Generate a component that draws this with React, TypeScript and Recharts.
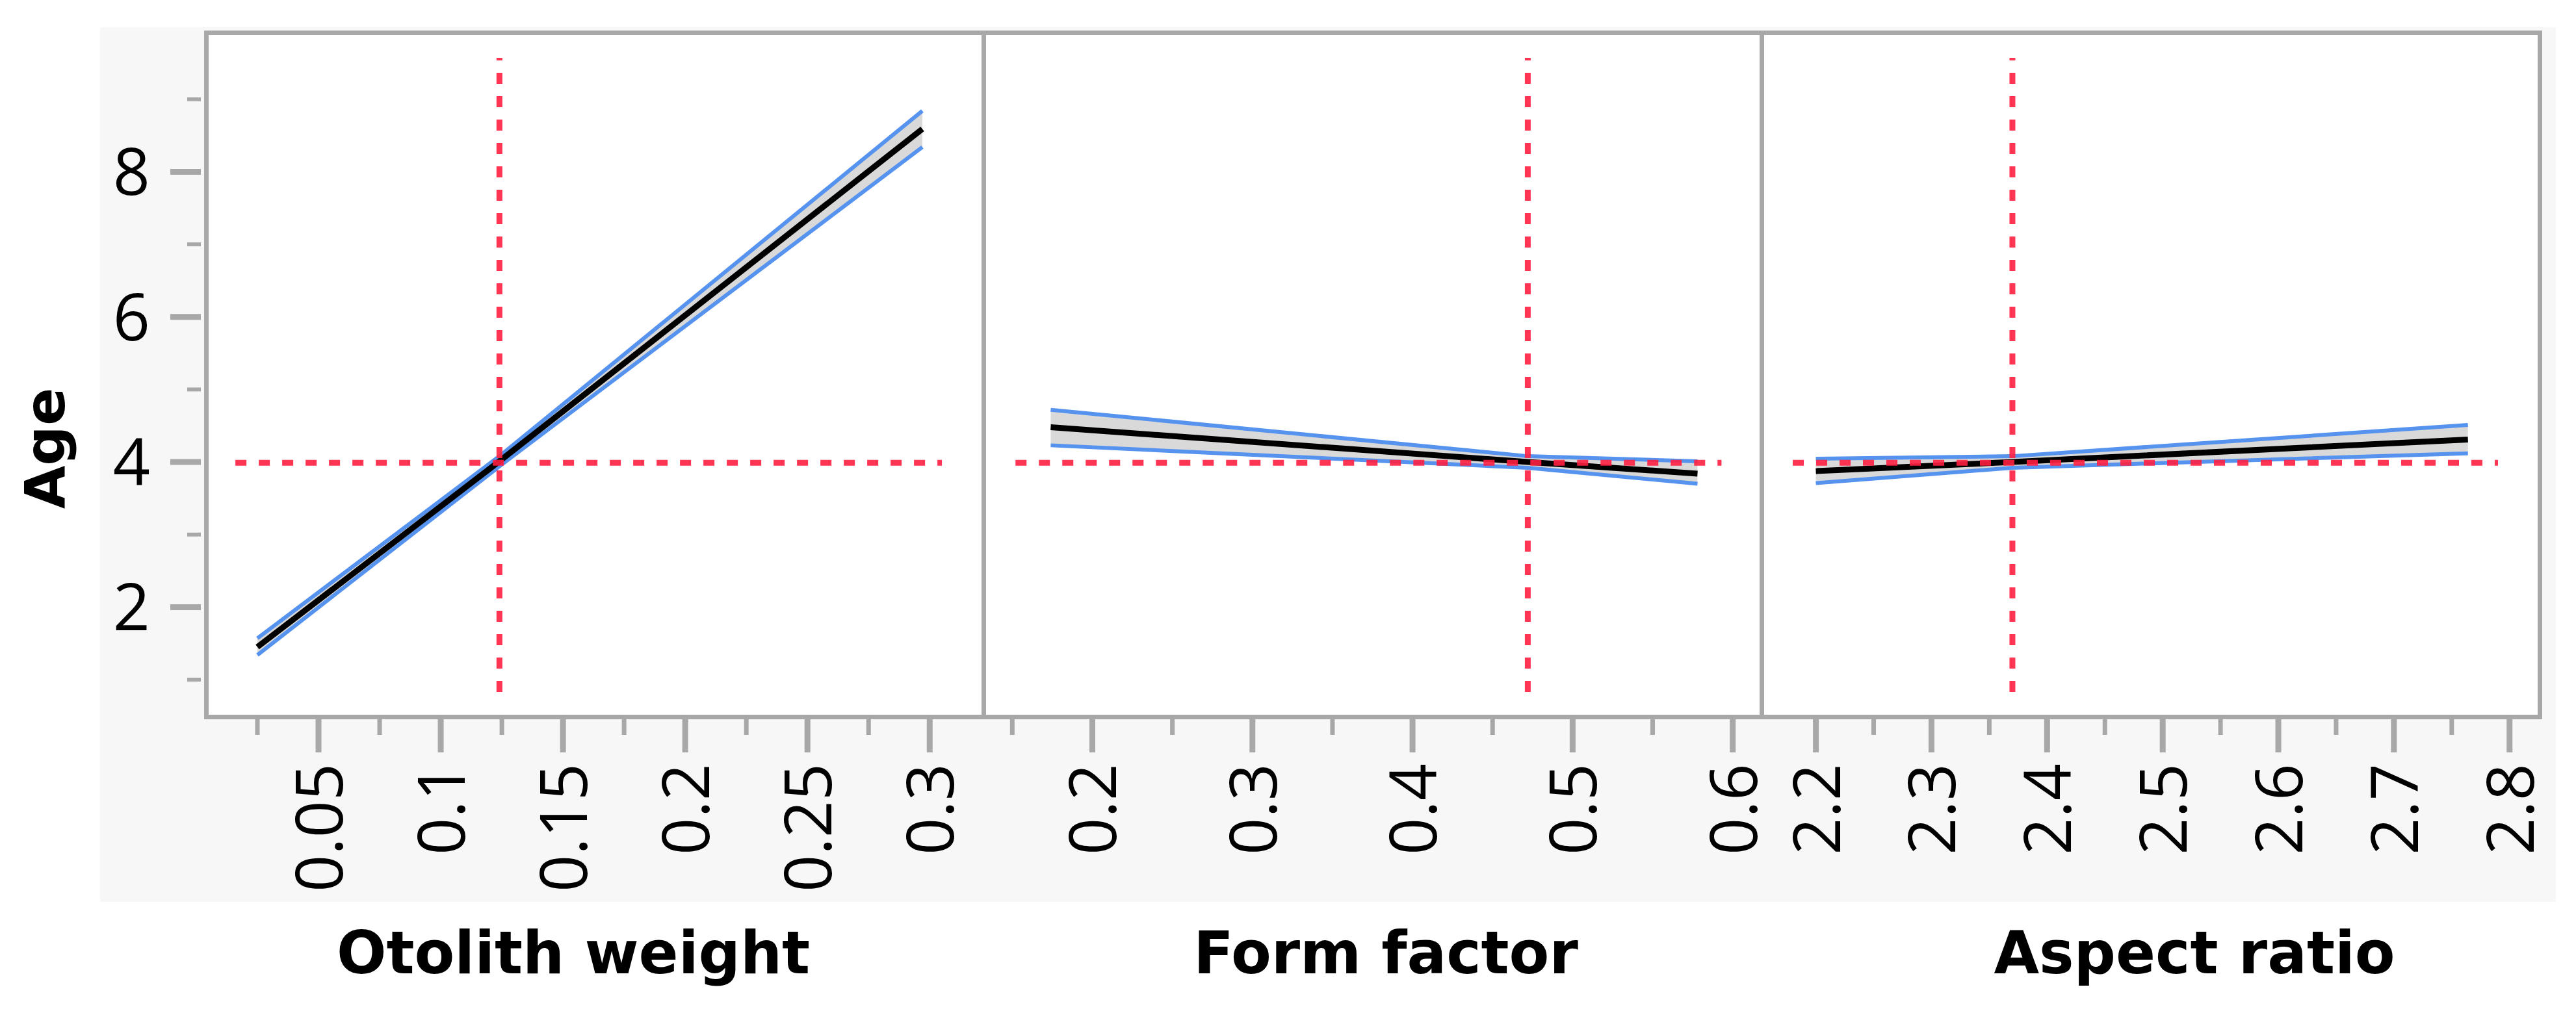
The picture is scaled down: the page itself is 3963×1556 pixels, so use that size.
import React from 'react';
import { ComposedChart, Line, Area, XAxis, YAxis, ReferenceLine } from 'recharts';

// shared response axis
const ageDomain = [0.49, 9.92];
const ageMajorTicks = [2, 4, 6, 8];
const ageMinorTicks = [1, 3, 5, 7, 9];
const currentAge = 3.99;
const guideAgeRange = [0.83, 9.57];

// Otolith weight
const otolithX = [0.025, 0.124, 0.297];
const otolithFit = [1.45, 4.01, 8.59];
const otolithLower = [1.34, 3.94, 8.34];
const otolithUpper = [1.57, 4.08, 8.84];
const otolithMajor = [0.05, 0.1, 0.15, 0.2, 0.25, 0.3];
const otolithMinor = [0.025, 0.075, 0.125, 0.175, 0.225, 0.275];
const otolithDomain = [0.004, 0.322];
const otolithCurrent = 0.124;
const otolithGuide = [0.016, 0.305];

// Form factor
const formX = [0.174, 0.472, 0.578];
const formFit = [4.48, 4.0, 3.84];
const formLower = [4.23, 3.92, 3.7];
const formUpper = [4.72, 4.08, 4.01];
const formMajor = [0.2, 0.3, 0.4, 0.5, 0.6];
const formMinor = [0.15, 0.25, 0.35, 0.45, 0.55];
const formDomain = [0.132, 0.618];
const formCurrent = 0.472;
const formGuide = [0.152, 0.593];

// Aspect ratio
const aspectX = [2.2, 2.37, 2.764];
const aspectFit = [3.874, 4.0, 4.31];
const aspectLower = [3.71, 3.92, 4.12];
const aspectUpper = [4.045, 4.08, 4.51];
const aspectMajor = [2.2, 2.3, 2.4, 2.5, 2.6, 2.7, 2.8];
const aspectMinor = [2.25, 2.35, 2.45, 2.55, 2.65, 2.75];
const aspectDomain = [2.153, 2.826];
const aspectCurrent = 2.37;
const aspectGuide = [2.18, 2.79];

const FONT_TICK = '"Open Sans", "Noto Sans", sans-serif';
const FONT_TITLE = '"DejaVu Sans", sans-serif';
const axisGray = '#a8a8a8';
const red = '#ff2040';
const blue = '#5693ef';

const PLOT_TOP = 50;
const PLOT_H = 1053;
const AXIS_H = 350;
const TICK_FS = 100;

const buildRows = (xs: number[], fit: number[], lo: number[], hi: number[]) =>
  xs.map((x, i) => ({ x, fit: fit[i], lo: lo[i], hi: hi[i], band: [lo[i], hi[i]] }));

const makeXTick = (major: number[]) => (props: any) => {
  const { x, y, payload } = props;
  const isMajor = major.includes(payload.value);
  return (
    <g>
      <line x1={x} x2={x} y1={y} y2={y + (isMajor ? 55 : 28)} stroke={axisGray} strokeWidth={isMajor ? 9 : 7} />
      {isMajor && (
        <text
          transform={`translate(${x + 37},${y + 72}) rotate(-90)`}
          textAnchor="end"
          fontFamily={FONT_TICK}
          fontSize={TICK_FS}
          fill="#000"
        >
          {String(payload.value)}
        </text>
      )}
    </g>
  );
};

const YTick = (props: any) => {
  const { x, y, payload } = props;
  const isMajor = ageMajorTicks.includes(payload.value);
  return (
    <g>
      <line x1={x - (isMajor ? 55 : 29)} x2={x - 8} y1={y} y2={y} stroke={axisGray} strokeWidth={isMajor ? 9 : 6} />
      {isMajor && (
        <text x={x - 86} y={y + 36} textAnchor="end" fontFamily={FONT_TICK} fontSize={TICK_FS} fill="#000">
          {payload.value}
        </text>
      )}
    </g>
  );
};

interface PanelProps {
  left: number;
  width: number;
  rows: any[];
  domain: number[];
  major: number[];
  minor: number[];
  current: number;
  guide: number[];
  withYAxis?: boolean;
}

const Panel: React.FC<PanelProps> = ({ left, width, rows, domain, major, minor, current, guide, withYAxis }) => (
  <div style={{ position: 'absolute', left, top: PLOT_TOP }}>
    <ComposedChart width={width} height={PLOT_H + AXIS_H} data={rows} margin={{ top: 0, right: 0, bottom: 0, left: 0 }}>
      <XAxis
        type="number"
        dataKey="x"
        domain={domain}
        ticks={[...major, ...minor]}
        interval={0}
        allowDataOverflow
        height={AXIS_H}
        tickSize={0}
        tickMargin={0}
        tickLine={false}
        axisLine={false}
        tick={makeXTick(major)}
      />
      <YAxis
        type="number"
        domain={ageDomain}
        allowDataOverflow
        hide={!withYAxis}
        width={withYAxis ? 317 : 0}
        ticks={[...ageMajorTicks, ...ageMinorTicks]}
        interval={0}
        tickSize={0}
        tickMargin={0}
        tickLine={false}
        axisLine={false}
        tick={YTick}
      />
      <Area type="linear" dataKey="band" stroke="none" fill="#d9d9d9" fillOpacity={1} isAnimationActive={false} />
      <Line type="linear" dataKey="hi" stroke={blue} strokeWidth={6} dot={false} activeDot={false} isAnimationActive={false} />
      <Line type="linear" dataKey="lo" stroke={blue} strokeWidth={6} dot={false} activeDot={false} isAnimationActive={false} />
      <Line type="linear" dataKey="fit" stroke="#000" strokeWidth={9} dot={false} activeDot={false} isAnimationActive={false} />
      <ReferenceLine
        segment={[{ x: guide[0], y: currentAge }, { x: guide[1], y: currentAge }]}
        stroke={red}
        strokeWidth={9}
        strokeDasharray="17 19"
        strokeOpacity={0.9}
        ifOverflow="visible"
      />
      <ReferenceLine
        segment={[{ x: current, y: guideAgeRange[0] }, { x: current, y: guideAgeRange[1] }]}
        stroke={red}
        strokeWidth={9}
        strokeDasharray="17 19"
        strokeOpacity={0.9}
        ifOverflow="visible"
      />
    </ComposedChart>
  </div>
);

export default function App() {
  return (
    <div style={{ position: 'relative', width: 3963, height: 1556, background: '#fff', overflow: 'hidden' }}>
      <style>{'body{margin:0} .recharts-surface{overflow:visible}'}</style>
      <div style={{ position: 'absolute', left: 154, top: 42, width: 3778, height: 1346, background: '#f7f7f7' }} />
      <div
        style={{
          position: 'absolute',
          left: 313.5,
          top: 46.5,
          width: 3597,
          height: 1060,
          boxSizing: 'border-box',
          border: `7px solid ${axisGray}`,
          background: '#fff',
        }}
      />
      <div style={{ position: 'absolute', left: 1509.5, top: 50, width: 7, height: PLOT_H, background: axisGray }} />
      <div style={{ position: 'absolute', left: 2706.5, top: 50, width: 7, height: PLOT_H, background: axisGray }} />

      <Panel
        left={0}
        width={1513}
        rows={buildRows(otolithX, otolithFit, otolithLower, otolithUpper)}
        domain={otolithDomain}
        major={otolithMajor}
        minor={otolithMinor}
        current={otolithCurrent}
        guide={otolithGuide}
        withYAxis
      />
      <Panel
        left={1513}
        width={1197}
        rows={buildRows(formX, formFit, formLower, formUpper)}
        domain={formDomain}
        major={formMajor}
        minor={formMinor}
        current={formCurrent}
        guide={formGuide}
      />
      <Panel
        left={2710}
        width={1197}
        rows={buildRows(aspectX, aspectFit, aspectLower, aspectUpper)}
        domain={aspectDomain}
        major={aspectMajor}
        minor={aspectMinor}
        current={aspectCurrent}
        guide={aspectGuide}
      />

      <svg width={3963} height={1556} style={{ position: 'absolute', left: 0, top: 0, pointerEvents: 'none' }}>
        <text
          transform="translate(99,690) rotate(-90)"
          textAnchor="middle"
          fontFamily={FONT_TITLE}
          fontWeight="bold"
          fontSize={86}
          fill="#000"
        >
          Age
        </text>
        <text x={882} y={1498} textAnchor="middle" fontFamily={FONT_TITLE} fontWeight="bold" fontSize={90} fill="#000">
          Otolith weight
        </text>
        <text x={2132} y={1498} textAnchor="middle" fontFamily={FONT_TITLE} fontWeight="bold" fontSize={90} fill="#000">
          Form factor
        </text>
        <text x={3376} y={1498} textAnchor="middle" fontFamily={FONT_TITLE} fontWeight="bold" fontSize={90} fill="#000">
          Aspect ratio
        </text>
      </svg>
    </div>
  );
}
